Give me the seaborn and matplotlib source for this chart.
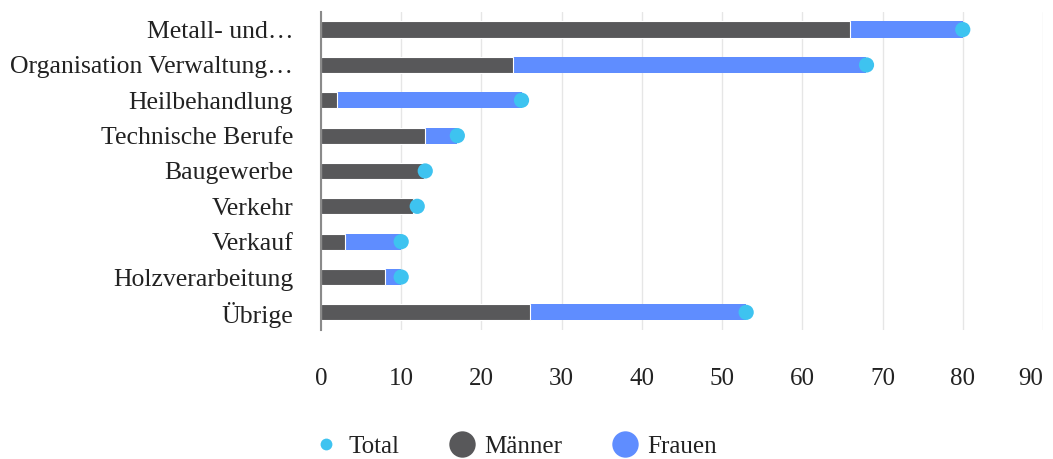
import matplotlib
matplotlib.use("Agg")
import matplotlib.pyplot as plt
import seaborn as sns
import pandas as pd
from matplotlib.lines import Line2D

categories = ["Metall- und\u2026", "Organisation Verwaltung\u2026", "Heilbehandlung",
              "Technische Berufe", "Baugewerbe", "Verkehr", "Verkauf",
              "Holzverarbeitung", "\u00dcbrige"]
maenner = [66, 24, 2, 13, 12.8, 11.5, 3, 8, 26]
frauen = [14, 44, 23, 4, 0, 0, 7, 2, 27]
total = [80, 68, 25, 17, 13, 12, 10, 10, 53]
xticks = [0, 10, 20, 30, 40, 50, 60, 70, 80, 90]

c_m = "#58585a"
c_f = "#5f8dff"
c_t = "#3ec3f0"

df = pd.DataFrame({"cat": categories, "Männer": maenner, "Frauen": frauen, "Total": total})
df["stack"] = df["Männer"] + df["Frauen"]

sns.set_theme(style="white")
plt.rcParams["font.family"] = ["Liberation Serif", "DejaVu Serif"]

fig = plt.figure(figsize=(10.53, 4.59), dpi=100)
ax = fig.add_axes([0.3048, 0.281, 0.9905 - 0.3048, 0.974 - 0.281])

sns.barplot(data=df, y="cat", x="stack", color=c_f, orient="h", width=0.46,
            saturation=1, ax=ax, zorder=2, edgecolor="none")
sns.barplot(data=df, y="cat", x="Männer", color=c_m, orient="h", width=0.46,
            saturation=1, ax=ax, zorder=3, edgecolor="white", linewidth=0.8)
sns.scatterplot(data=df, y="cat", x="Total", color=c_t, s=120, ax=ax, zorder=4,
                edgecolor="none", legend=False)

ax.set_xlim(0, 90)
ax.set_ylim(8.5, -0.5)
ax.set_xticks(xticks)
ax.set_xticklabels([str(t) for t in xticks])
ax.get_xticklabels()[-1].set_horizontalalignment("right")
ax.grid(axis="x", color="#e6e6e6", linewidth=1, zorder=0)
ax.set_axisbelow(True)
for s in ["top", "right", "bottom"]:
    ax.spines[s].set_visible(False)
ax.spines["left"].set_color("#8a8a8a")
ax.spines["left"].set_linewidth(1.5)
ax.spines["left"].set_zorder(5)
ax.tick_params(axis="x", length=0, pad=27, labelsize=18, labelcolor="#222222")
ax.tick_params(axis="y", length=0, pad=20, labelsize=18.5, labelcolor="#222222")
ax.set_xlabel("")
ax.set_ylabel("")

handles = [
    Line2D([], [], marker="o", linestyle="none", markersize=8.5, color=c_t, markeredgewidth=0),
    Line2D([], [], marker="o", linestyle="none", markersize=19, color=c_m, markeredgewidth=0),
    Line2D([], [], marker="o", linestyle="none", markersize=19, color=c_f, markeredgewidth=0),
]
fig.legend(handles, ["Total", "Männer", "Frauen"], loc="center", ncol=3,
           bbox_to_anchor=(0.489, 0.027), frameon=False, fontsize=18,
           handlelength=1.0, handletextpad=0.4, columnspacing=2.0,
           labelcolor="#222222")

fig.savefig("out.png", dpi=100)
